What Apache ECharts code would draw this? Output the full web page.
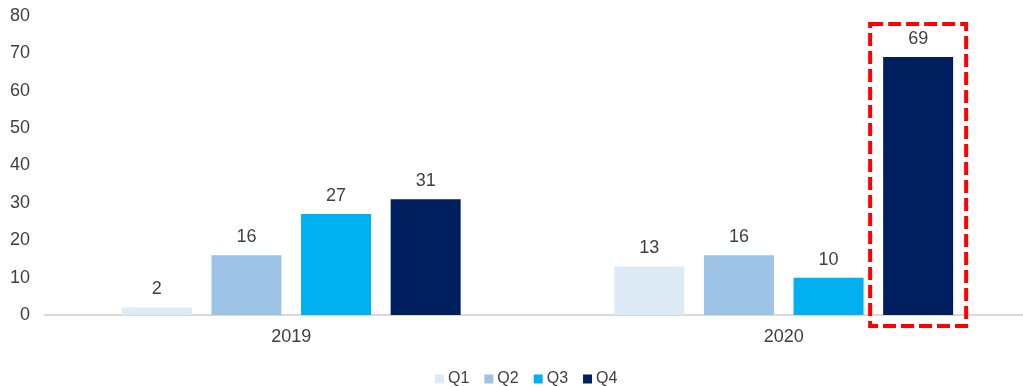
<!DOCTYPE html>
<html>
<head>
<meta charset="utf-8">
<script src="https://cdn.jsdelivr.net/npm/echarts@6/dist/echarts.min.js"></script>
<style>
  html, body { margin: 0; padding: 0; background: #fff; }
  #chart { width: 1023px; height: 387px; }
</style>
</head>
<body>
<div id="chart"></div>
<script>
// Quarterly counts per year
const years = ['2019', '2020'];
const quarters = ['Q1', 'Q2', 'Q3', 'Q4'];
const q1 = [2, 13];
const q2 = [16, 16];
const q3 = [27, 10];
const q4 = [31, 69];
const yTicks = { min: 0, max: 80, interval: 10 };
const colors = ['#DDEBF7', '#9DC3E6', '#00B0F0', '#001F5F'];

const FONT = 'Liberation Sans, Arial, sans-serif';
const TEXT = '#404040';
const chart = echarts.init(document.getElementById('chart'), null, { renderer: 'canvas' });

const seriesValues = [q1, q2, q3, q4];
const series = quarters.map((q, i) => ({
  name: q,
  type: 'bar',
  data: seriesValues[i],
  barWidth: 70,
  barGap: '28%',
  itemStyle: { color: colors[i] },
  label: {
    show: true,
    position: 'top',
    distance: 9,
    fontFamily: FONT,
    fontSize: 18,
    color: TEXT
  }
}));

chart.setOption({
  animation: false,
  color: colors,
  grid: { left: 45, top: 16, width: 985, bottom: 72, outerBoundsMode: 'none', containLabel: false },
  legend: {
    bottom: -5,
    left: 430,
    itemWidth: 9,
    itemHeight: 9,
    itemGap: 15,
    icon: 'rect',
    textStyle: { fontFamily: FONT, fontSize: 16, color: TEXT, padding: [0, 0, 0, -1] },
    data: quarters
  },
  xAxis: {
    type: 'category',
    data: years,
    axisLine: { lineStyle: { color: '#D9D9D9', width: 2 } },
    axisTick: { show: false },
    axisLabel: { fontFamily: FONT, fontSize: 18, color: TEXT, margin: 13 }
  },
  yAxis: {
    type: 'value',
    min: yTicks.min,
    max: yTicks.max,
    interval: yTicks.interval,
    axisLine: { show: false },
    axisTick: { show: false },
    splitLine: { show: false },
    axisLabel: { fontFamily: FONT, fontSize: 18, color: TEXT, margin: 15 }
  },
  series: series
});

// Dashed highlight frame around the 2020 Q4 bar, placed from the bar's rendered layout
function drawHighlight() {
  const data = chart.getModel().getSeriesByIndex(3).getData();
  const lay = data.getItemLayout(1);
  const x0 = Math.min(lay.x, lay.x + lay.width);
  const w = Math.abs(lay.width);
  const base = lay.y;
  const top = lay.y + lay.height;
  chart.setOption({
    graphic: [{
      type: 'rect',
      shape: { x: x0 - 13, y: top - 33, width: w + 26, height: base - top + 44 },
      style: { fill: null, stroke: '#FF0000', lineWidth: 4, lineDash: [13, 5] },
      z: 10
    }]
  });
}
drawHighlight();
</script>
</body>
</html>
